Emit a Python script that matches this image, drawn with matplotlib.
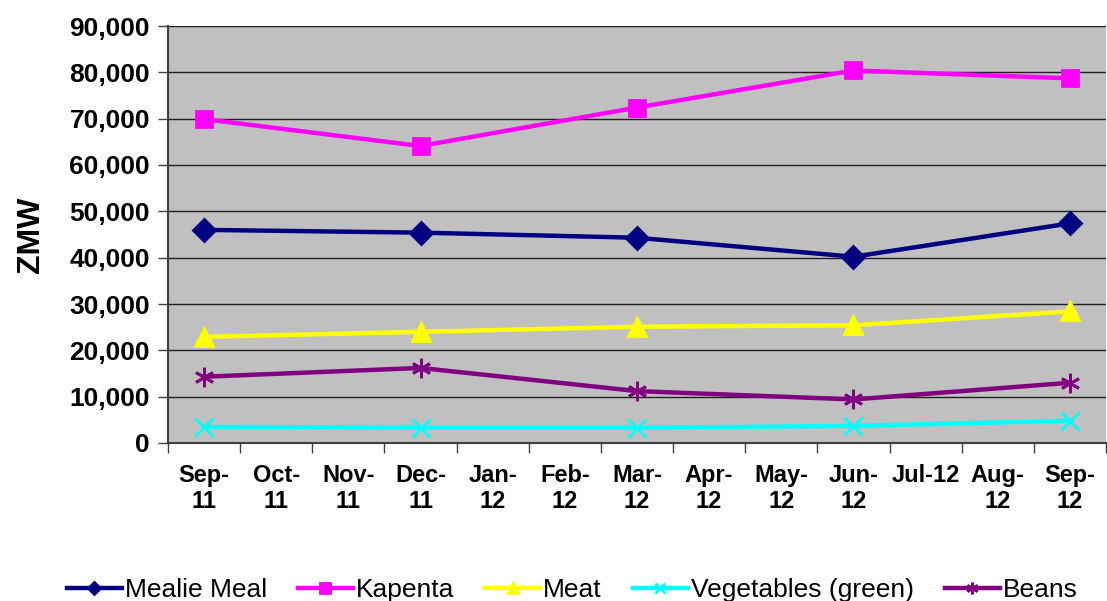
import numpy as np
import matplotlib
matplotlib.use('Agg')
import matplotlib.pyplot as plt
from matplotlib.ticker import FuncFormatter

months = ['Sep-\n11', 'Oct-\n11', 'Nov-\n11', 'Dec-\n11', 'Jan-\n12', 'Feb-\n12', 'Mar-\n12',
          'Apr-\n12', 'May-\n12', 'Jun-\n12', 'Jul-12', 'Aug-\n12', 'Sep-\n12']
obs_idx = [0, 3, 6, 9, 12]

mealie_meal = [46000, 45400, 44300, 40200, 47400]
kapenta = [69900, 64100, 72400, 80400, 78700]
meat = [22900, 24000, 25100, 25400, 28400]
vegetables = [3500, 3300, 3300, 3700, 4800]
beans = [14300, 16200, 11200, 9400, 13000]

series = [
    ('Mealie Meal', mealie_meal, '#000080', 'D', 11),
    ('Kapenta', kapenta, '#FF00FF', 's', 12),
    ('Meat', meat, '#FFFF00', '^', 13),
    ('Vegetables (green)', vegetables, '#00FFFF', 'x', 13),
    ('Beans', beans, '#800080', (6, 2, 0), 14),
]

fig = plt.figure(figsize=(11.07, 6.01), dpi=100)
ax = fig.add_axes([168/1107, 158/601, 938/1107, 417/601])
ax.set_facecolor('#C0C0C0')

for name, vals, col, mk, ms in series:
    ax.plot(obs_idx, vals, color=col, lw=3.2, marker=mk, ms=ms, mew=2,
            mfc=col, mec=col, label=name, zorder=3)

ax.set_xlim(-0.5, 12.5)
ax.set_ylim(0, 90000)
ax.set_yticks(np.arange(0, 90001, 10000))
ax.yaxis.set_major_formatter(FuncFormatter(lambda v, p: f'{int(v):,}'))
ax.grid(axis='y', color='#202020', lw=1)
ax.set_axisbelow(True)

ax.set_xticks(np.arange(-0.5, 13, 1))
ax.set_xticklabels([])
ax.set_xticks(np.arange(13), minor=True)
ax.set_xticklabels(months, minor=True, fontsize=17, fontweight='bold', family='Liberation Sans',
                   linespacing=1.15)
ax.tick_params(axis='x', which='minor', length=0, pad=15)
ax.tick_params(axis='x', which='major', length=7, width=1, color='#404040')
ax.tick_params(axis='y', length=7, width=1, color='#404040', pad=6)
for lab in ax.get_yticklabels():
    lab.set_fontsize(19)
    lab.set_fontweight('bold')
    lab.set_family('Liberation Sans')

for s in ['top', 'right']:
    ax.spines[s].set_visible(False)
for s in ['left', 'bottom']:
    ax.spines[s].set_color('#404040')
    ax.spines[s].set_linewidth(1.5)

ax.set_ylabel('ZMW', fontsize=23, fontweight='bold', family='Liberation Sans', labelpad=17)

fig.legend(loc='center', bbox_to_anchor=(0.517, 0.018), ncol=5, frameon=False,
           prop={'family': 'Liberation Sans', 'size': 19},
           handlelength=2.08, columnspacing=1.17, handletextpad=0.12, markerscale=0.6)

fig.savefig('out.png', dpi=100)
